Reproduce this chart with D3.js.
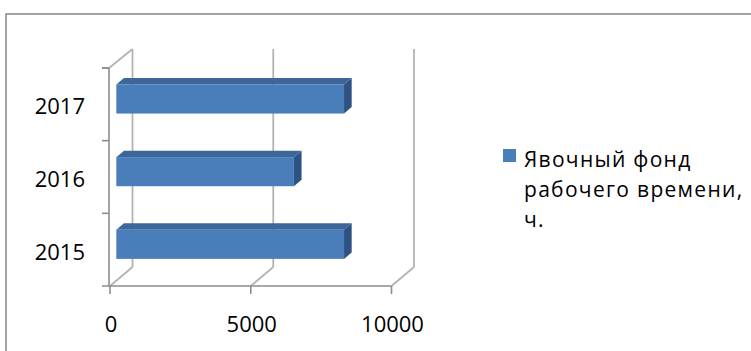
<!DOCTYPE html>
<html>
<head>
<meta charset="utf-8">
<script src="https://cdnjs.cloudflare.com/ajax/libs/d3/7.8.5/d3.min.js"></script>
<style>
  body { margin: 0; background: #fff; }
  text { font-family: "Open Sans", "Noto Sans", sans-serif; fill: #000; }
</style>
</head>
<body>
<div id="chart"></div>
<script>
var categories  = ["2015", "2016", "2017"];
var values      = [8090, 6310, 8090];
var xTicks      = [0, 5000, 10000];
var legendLines = ["Явочный фонд", "рабочего времени,", "ч."];

var width  = 751;
var height = 351;

// depth of the 3d box, as a screen offset
var DX = 22.5, DY = -19;
// bar front and back, as fractions of that depth
var barFront = 0.28, barBack = 0.62;

var svg = d3.select("#chart").append("svg")
    .attr("width", width)
    .attr("height", height);

// chart area border (right and bottom run off the picture)
svg.append("rect")
    .attr("x", 6).attr("y", 14)
    .attr("width", 800).attr("height", 400)
    .attr("fill", "none")
    .attr("stroke", "#8c8c8c")
    .attr("stroke-width", 1.6);

var xScale = d3.scaleLinear().domain([0, 10000]).range([110, 391.5]);
var yScale = d3.scaleBand().domain(categories).range([286, 68])
    .paddingInner(0.6).paddingOuter(0.3);

var yTop = 68, yBottom = 286;
var step = yScale.step();
var bandEdge = function(c) { return yScale(c) - yScale.paddingOuter() * step; };

function proj(xv, yv, d) {
    return [xScale(xv) + d * DX, yv + d * DY];
}
var line = d3.line();

var grid = svg.append("g")
    .attr("fill", "none")
    .attr("stroke", "#b3b3b3")
    .attr("stroke-width", 1.8);

// back wall verticals and floor diagonals at each tick
xTicks.forEach(function(t) {
    grid.append("path").attr("d", line([proj(t, yBottom, 1), proj(t, yTop, 1)]));
    grid.append("path").attr("d", line([proj(t, yBottom, 0), proj(t, yBottom, 1)]));
});
// left wall top edge
grid.append("path").attr("d", line([[xScale(0) - 1, yTop], proj(0, yTop, 1)]));

var axis = svg.append("g")
    .attr("fill", "none")
    .attr("stroke", "#8c8c8c")
    .attr("stroke-width", 1.6);

// vertical (category) axis with ticks on band edges
axis.append("path").attr("d", line([[xScale(0) - 1, yTop], [xScale(0) - 1, yBottom]]));
var edges = categories.map(bandEdge).concat([yTop]);
edges.forEach(function(e) {
    axis.append("path").attr("d", line([[xScale(0) - 8, e], [xScale(0) - 1, e]]));
});
// horizontal (value) axis
axis.append("path").attr("d", line([[xScale(0) - 8, yBottom], [xScale(10000), yBottom]]));
xTicks.forEach(function(t) {
    axis.append("path").attr("d", line([[xScale(t), yBottom], [xScale(t), yBottom + 8]]));
});

// bars
var bars = svg.append("g");
categories.forEach(function(c, i) {
    var v  = values[i];
    var y0 = yScale(c), y1 = y0 + yScale.bandwidth();
    var f0 = proj(0, y0, barFront), f1 = proj(v, y1, barFront);
    var bTL = proj(0, y0, barBack), bTR = proj(v, y0, barBack), bBR = proj(v, y1, barBack);
    var fTR = proj(v, y0, barFront), fBR = proj(v, y1, barFront);
    // top face
    bars.append("path")
        .attr("d", line([f0, fTR, bTR, bTL]) + "Z")
        .attr("fill", "#3d679b");
    // right face
    bars.append("path")
        .attr("d", line([fTR, bTR, bBR, fBR]) + "Z")
        .attr("fill", "#2e5382");
    // front face
    bars.append("rect")
        .attr("x", f0[0]).attr("y", f0[1])
        .attr("width", f1[0] - f0[0]).attr("height", f1[1] - f0[1])
        .attr("fill", "#4a7ebb");
});

// category labels
svg.append("g").selectAll("text")
    .data(categories)
    .enter().append("text")
    .attr("x", 85)
    .attr("y", function(d) { return bandEdge(d) + step / 2 + 4; })
    .attr("text-anchor", "end")
    .attr("dominant-baseline", "middle")
    .style("font-size", "22px")
    .text(function(d) { return d; });

// value labels
svg.append("g").selectAll("text")
    .data(xTicks)
    .enter().append("text")
    .attr("x", function(d) { return xScale(d) + 1; })
    .attr("y", 326)
    .attr("text-anchor", "middle")
    .attr("dominant-baseline", "middle")
    .style("font-size", "22px")
    .text(function(d) { return d; });

// legend
var legend = svg.append("g");
legend.append("rect")
    .attr("x", 503).attr("y", 149)
    .attr("width", 13).attr("height", 13)
    .attr("fill", "#4a7ebb");
legend.selectAll("text")
    .data(legendLines)
    .enter().append("text")
    .attr("x", 524)
    .attr("y", function(d, i) { return 161 + i * 30; })
    .attr("dominant-baseline", "middle")
    .style("font-size", "21px")
    .style("letter-spacing", "1.3px")
    .text(function(d) { return d; });
</script>
</body>
</html>
